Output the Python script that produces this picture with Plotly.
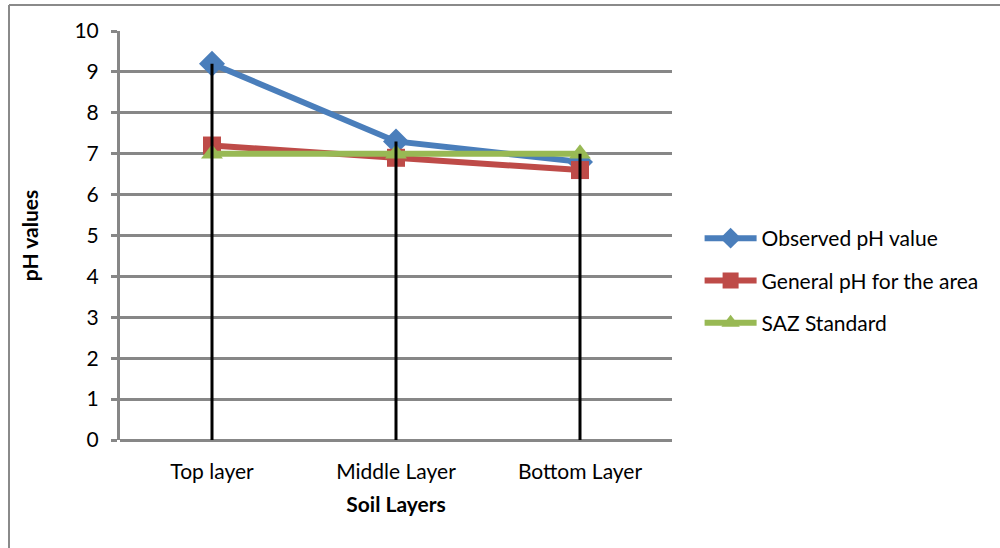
import plotly.graph_objects as go

# Soil pH by layer
layers = ["Top layer", "Middle Layer", "Bottom Layer"]
observed_ph = [9.2, 7.3, 6.8]
general_ph = [7.2, 6.9, 6.6]
saz_standard = [7.0, 7.0, 7.0]
y_ticks = list(range(0, 11))

series = [
    ("Observed pH value", observed_ph, "#4A7EBB", "diamond", 20),
    ("General pH for the area", general_ph, "#BE4B48", "square", 18),
    ("SAZ Standard", saz_standard, "#98B954", "triangle-up", 19),
]

fig = go.Figure()

for i, (name, vals, color, symbol, msize) in enumerate(series):
    fig.add_trace(go.Scatter(
        x=layers, y=vals, name=name, mode="lines+markers",
        line=dict(color=color, width=6),
        marker=dict(symbol=symbol, size=msize, color=color),
        legendgroup=f"g{i}",
    ))

# Drop lines: from the highest value in each category down to the axis
drop_x, drop_y = [], []
for j, cat in enumerate(layers):
    top = max(s[1][j] for s in series)
    drop_x += [cat, cat, None]
    drop_y += [top, 0, None]
fig.add_trace(go.Scatter(
    x=drop_x, y=drop_y, mode="lines", line=dict(color="black", width=3),
    showlegend=False, hoverinfo="skip",
))

font_family = "Lato, 'Open Sans', sans-serif"

fig.update_layout(
    width=1000, height=548,
    margin=dict(l=120, r=328, t=31, b=108),
    paper_bgcolor="white", plot_bgcolor="white",
    font=dict(family=font_family, color="black", size=20),
    xaxis=dict(
        type="category", range=[-0.5, 2.5],
        showgrid=False, showline=False, zeroline=False,
        ticks="", tickfont=dict(size=21), ticklabelstandoff=17,
        title=dict(text="<b>Soil Layers</b>", font=dict(size=21), standoff=15),
    ),
    yaxis=dict(
        range=[0, 10], tickvals=y_ticks,
        showgrid=True, gridcolor="#878787", gridwidth=3,
        showline=True, linecolor="#878787", linewidth=3,
        ticks="outside", ticklen=6, tickwidth=3, tickcolor="#878787",
        zeroline=True, zerolinecolor="#878787", zerolinewidth=3,
        tickfont=dict(size=21), ticklabelstandoff=8,
        title=dict(text="<b>pH values</b>", font=dict(size=21), standoff=31),
    ),
    legend=dict(
        x=1.05, y=0.39, xanchor="left", yanchor="middle",
        font=dict(size=21), itemwidth=52, tracegroupgap=12,
        traceorder="grouped", bgcolor="rgba(0,0,0,0)",
    ),
    shapes=[
        dict(type="line", xref="paper", yref="paper",
             x0=-111 / 552, x1=890 / 552, y0=1 + 26 / 409, y1=1 + 26 / 409,
             line=dict(color="#8a8a8a", width=2)),
        dict(type="line", xref="paper", yref="paper",
             x0=-111 / 552, x1=-111 / 552, y0=1 + 26 / 409, y1=-120 / 409,
             line=dict(color="#8a8a8a", width=2)),
    ],
)

fig.write_html("out.html")
